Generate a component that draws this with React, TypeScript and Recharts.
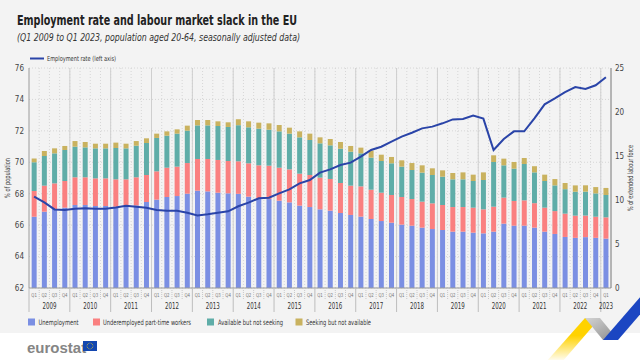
import React from 'react';
import { ComposedChart, Bar, Line, XAxis, YAxis, CartesianGrid } from 'recharts';

// quarters Q1 2009 .. Q1 2023
const years = ['2009', '2010', '2011', '2012', '2013', '2014', '2015', '2016', '2017', '2018', '2019', '2020', '2021', '2022', '2023'];
const quarterNames = ['Q1', 'Q2', 'Q3', 'Q4'];
const periods = years.flatMap((y) => quarterNames.map((q) => `${y}-${q}`)).slice(0, 57);

// % of extended labour force (right axis)
const unemployment = [8.1, 8.67, 8.98, 9.13, 9.43, 9.43, 9.32, 9.32, 9.24, 9.32, 9.39, 9.77, 10.04, 10.34, 10.45, 10.72, 11.06, 10.98, 10.83, 10.76, 10.7, 10.38, 10.19, 10.11, 9.92, 9.73, 9.36, 9.2, 8.94, 8.79, 8.52, 8.3, 8.11, 7.84, 7.61, 7.42, 7.2, 7.08, 6.86, 6.7, 6.59, 6.4, 6.4, 6.29, 6.21, 6.4, 7.31, 7.08, 7.08, 6.86, 6.4, 6.14, 5.8, 5.7, 5.78, 5.7, 5.61];
const underemployed = [2.92, 2.96, 2.91, 3.03, 3.15, 3.15, 3.14, 3.14, 3.11, 3.03, 3.19, 3.07, 3.22, 3.33, 3.34, 3.48, 3.6, 3.68, 3.72, 3.67, 3.7, 3.79, 3.75, 3.79, 3.75, 3.75, 3.63, 3.64, 3.6, 3.6, 3.41, 3.33, 3.44, 3.33, 3.22, 3.15, 3.14, 3.03, 2.95, 2.92, 2.84, 2.8, 2.8, 2.84, 2.73, 2.84, 2.96, 2.81, 2.88, 2.78, 2.73, 2.6, 2.65, 2.52, 2.45, 2.4, 2.42];
const availableNotSeeking = [3.26, 3.37, 3.41, 3.52, 3.48, 3.4, 3.41, 3.41, 3.56, 3.52, 3.59, 3.64, 3.79, 3.64, 3.75, 3.68, 3.82, 3.82, 3.86, 3.87, 4.1, 4.09, 4.17, 4.09, 4.13, 4.06, 4.13, 3.98, 3.9, 3.82, 3.9, 3.86, 3.75, 3.64, 3.6, 3.6, 3.45, 3.3, 3.3, 3.22, 3.22, 3.15, 3.15, 3.03, 3.33, 5.08, 3.67, 3.67, 4.13, 3.5, 3.03, 2.92, 2.78, 2.72, 2.72, 2.65, 2.54];
const seekingNotAvailable = [0.45, 0.57, 0.57, 0.46, 0.64, 0.61, 0.53, 0.53, 0.61, 0.53, 0.53, 0.53, 0.49, 0.49, 0.49, 0.57, 0.61, 0.61, 0.53, 0.53, 0.68, 0.68, 0.68, 0.72, 0.72, 0.68, 0.68, 0.72, 0.68, 0.72, 0.76, 0.65, 0.65, 0.8, 0.72, 0.72, 0.72, 0.79, 0.83, 0.76, 0.72, 0.72, 0.79, 0.72, 0.87, 0.76, 0.76, 0.76, 0.68, 0.7, 0.72, 0.72, 0.7, 0.72, 0.72, 0.72, 0.8];

// % of population (left axis)
const employmentRate = [67.81, 67.45, 67.0, 66.96, 67.05, 67.07, 67.05, 67.05, 67.13, 67.24, 67.17, 67.1, 66.96, 66.92, 66.92, 66.79, 66.62, 66.69, 66.79, 66.88, 67.2, 67.43, 67.71, 67.75, 68.02, 68.28, 68.66, 68.87, 69.34, 69.55, 69.83, 69.98, 70.36, 70.78, 70.99, 71.31, 71.63, 71.88, 72.16, 72.27, 72.48, 72.73, 72.75, 72.97, 72.78, 70.78, 71.48, 71.97, 71.97, 72.8, 73.69, 74.07, 74.47, 74.79, 74.66, 74.9, 75.41];

const leftTicks = [62, 64, 66, 68, 70, 72, 74, 76];
const rightTicks = [0, 5, 10, 15, 20, 25];

const data = periods.map((period, i) => ({
  period,
  unemployment: unemployment[i],
  underemployed: underemployed[i],
  available: availableNotSeeking[i],
  seeking: seekingNotAvailable[i],
  employment: employmentRate[i],
}));

const FONT = '"Liberation Sans Narrow", "DejaVu Sans Condensed", "Liberation Sans", sans-serif';
const C_UNEMP = '#7b8fe3';
const C_UNDER = '#fa8080';
const C_AVAIL = '#5fada8';
const C_SEEK = '#c9b25f';
const C_LINE = '#2a44a8';

const BAND = 582 / 57;

const PeriodTick = (props: any) => {
  const { x, y, payload } = props;
  const [yr, q] = String(payload.value).split('-');
  const last = payload.index === periods.length - 1;
  const edge = x - BAND / 2;
  return (
    <g>
      <text x={x} y={y + 9} textAnchor="middle" fontSize={5.5} fill="#777" textLength={5.5} lengthAdjust="spacingAndGlyphs">
        {q}
      </text>
      {q === 'Q1' ? (
        <line x1={edge} x2={edge} y1={y} y2={y + 24} stroke="#bdbdbd" />
      ) : (
        <line x1={edge} x2={edge} y1={y + 2} y2={y + 11} stroke="#c8c8c8" strokeDasharray="1 1" />
      )}
      {(q === 'Q2' || (last && q === 'Q1')) && (
        <text
          x={last ? x : x + BAND / 2}
          y={y + 21}
          textAnchor="middle"
          fontSize={8}
          fill="#333"
          textLength={14}
          lengthAdjust="spacingAndGlyphs"
        >
          {yr}
        </text>
      )}
    </g>
  );
};

const quarterLines = ({ offset }: any) =>
  periods.slice(1).map((_, i) => offset.left + ((i + 1) * offset.width) / periods.length);

const yearLines = ({ offset }: any) =>
  periods
    .map((p, i) => (p.endsWith('Q1') && i > 0 ? offset.left + (i * offset.width) / periods.length : -1))
    .filter((v) => v > 0);

const legendItems = [
  { label: 'Unemployment', color: C_UNEMP, x: 28, tx: 38.5, w: 40 },
  { label: 'Underemployed part-time workers', color: C_UNDER, x: 93, tx: 103, w: 88 },
  { label: 'Available but not seeking', color: C_AVAIL, x: 207, tx: 218, w: 65 },
  { label: 'Seeking but not available', color: C_SEEK, x: 295.5, tx: 306, w: 65 },
];

const flagStars = [0, 1, 2, 3, 4, 5, 6, 7, 8, 9, 10, 11];

export default function App() {
  return (
    <div
      style={{
        position: 'absolute',
        left: 0,
        top: 0,
        width: 640,
        height: 360,
        fontFamily: FONT,
        background: 'linear-gradient(#f3f3f3 0px, #f3f3f3 333px, #ffffff 333px)',
        overflow: 'hidden',
      }}
    >
      <ComposedChart
        width={640}
        height={360}
        data={data}
        margin={{ top: 68, right: 0, left: 4, bottom: 42 }}
        barCategoryGap="26%"
      >
        <CartesianGrid
          yAxisId="left"
          stroke="#d6d6d6"
          strokeDasharray="1 2"
          verticalCoordinatesGenerator={quarterLines}
        />
        <CartesianGrid yAxisId="left" horizontal={false} stroke="#cfcfcf" verticalCoordinatesGenerator={yearLines} />
        <XAxis
          dataKey="period"
          interval={0}
          height={30}
          tickSize={0}
          tickMargin={0}
          axisLine={{ stroke: '#9a9a9a' }}
          tick={<PeriodTick />}
        />
        <YAxis
          yAxisId="left"
          orientation="left"
          domain={[62, 76]}
          ticks={leftTicks}
          width={25}
          tickSize={0}
          tickMargin={5}
          axisLine={{ stroke: '#9a9a9a' }}
          tick={{ fontSize: 8, fill: '#444' }}
        />
        <YAxis
          yAxisId="right"
          orientation="right"
          domain={[0, 25]}
          ticks={rightTicks}
          width={29}
          tickSize={0}
          tickMargin={4}
          axisLine={{ stroke: '#777' }}
          tick={{ fontSize: 8, fill: '#444' }}
        />
        <Bar yAxisId="right" dataKey="unemployment" stackId="s" fill={C_UNEMP} isAnimationActive={false} />
        <Bar yAxisId="right" dataKey="underemployed" stackId="s" fill={C_UNDER} isAnimationActive={false} />
        <Bar yAxisId="right" dataKey="available" stackId="s" fill={C_AVAIL} isAnimationActive={false} />
        <Bar yAxisId="right" dataKey="seeking" stackId="s" fill={C_SEEK} isAnimationActive={false} />
        <Line
          yAxisId="left"
          dataKey="employment"
          type="linear"
          stroke={C_LINE}
          strokeWidth={2}
          dot={false}
          isAnimationActive={false}
        />
      </ComposedChart>

      <svg width={640} height={360} style={{ position: 'absolute', left: 0, top: 0, pointerEvents: 'none' }}>
        <text x={17} y={25} fontSize={14} fontWeight="bold" fill="#222" textLength={280} lengthAdjust="spacingAndGlyphs">
          Employment rate and labour market slack in the EU
        </text>
        <text
          x={17}
          y={40.5}
          fontSize={10.5}
          fontStyle="italic"
          fill="#333"
          textLength={283}
          lengthAdjust="spacingAndGlyphs"
        >
          (Q1 2009 to Q1 2023, population aged 20-64, seasonally adjusted data)
        </text>

        <line x1={30} x2={44} y1={58.5} y2={58.5} stroke={C_LINE} strokeWidth={2} />
        <text x={47} y={61} fontSize={7} fill="#333" textLength={69} lengthAdjust="spacingAndGlyphs">
          Employment rate (left axis)
        </text>

        <text
          transform="translate(10,178) rotate(-90)"
          textAnchor="middle"
          fontSize={7.5}
          fill="#444"
          textLength={40}
          lengthAdjust="spacingAndGlyphs"
        >
          % of population
        </text>
        <text
          transform="translate(633,178) rotate(-90)"
          textAnchor="middle"
          fontSize={7.5}
          fill="#444"
          textLength={66}
          lengthAdjust="spacingAndGlyphs"
        >
          % of extended labour force
        </text>

        {legendItems.map((it) => (
          <g key={it.label}>
            <rect x={it.x} y={318.5} width={7} height={7} fill={it.color} />
            <text x={it.tx} y={325} fontSize={7.5} fill="#333" textLength={it.w} lengthAdjust="spacingAndGlyphs">
              {it.label}
            </text>
          </g>
        ))}

        <text x={27} y={353} fontSize={15} fontWeight="bold" fill="#858585" fontFamily='"Liberation Sans", sans-serif'>
          eurostat
        </text>
        <rect x={83} y={341} width={14} height={10} fill="#1347b0" />
        {flagStars.map((k) => (
          <circle
            key={k}
            cx={90 + 3 * Math.cos((k * Math.PI) / 6)}
            cy={346 + 3 * Math.sin((k * Math.PI) / 6)}
            r={0.45}
            fill="#ffd617"
          />
        ))}

        <defs>
          <linearGradient id="yel" x1="0" y1="1" x2="0" y2="0">
            <stop offset="0" stopColor="#ffd200" stopOpacity={0} />
            <stop offset="0.6" stopColor="#ffd200" stopOpacity={1} />
          </linearGradient>
          <linearGradient id="gry" x1="0" y1="0" x2="1" y2="1">
            <stop offset="0" stopColor="#d4d4d4" />
            <stop offset="1" stopColor="#8c8c8c" />
          </linearGradient>
        </defs>
        <polygon points="546,362 562,362 600,318 585,318" fill="url(#yel)" />
        <polygon points="585,318 600,318 618,340 603,340" fill="url(#gry)" />
        <polygon points="603,340 618,340 656,296 641,296" fill="#1b46c2" />
      </svg>
    </div>
  );
}
